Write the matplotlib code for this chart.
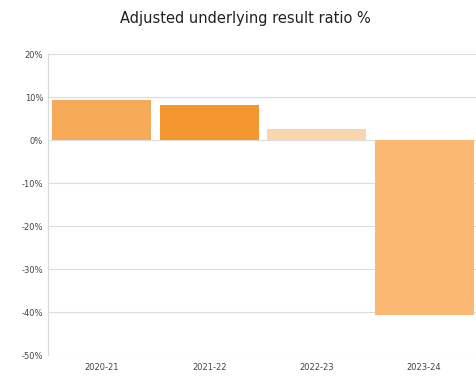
import matplotlib.pyplot as plt
from matplotlib.ticker import PercentFormatter

plt.rcParams['axes.unicode_minus'] = False

years = ['2020-21', '2021-22', '2022-23', '2023-24']
ratio = [9.3, 8.1, 2.5, -40.7]
colours = ['#F6A956', '#F4972E', '#FBD6AC', '#FBB872']

fig = plt.figure(figsize=(4.76, 3.81), dpi=100)
ax = fig.add_axes([0.101, 0.068, 0.903, 0.79])

ax.bar(years, ratio, width=0.92, color=colours, zorder=3)
ax.set_ylim(-50, 20)
ax.set_yticks(range(-50, 21, 10))
ax.yaxis.set_major_formatter(PercentFormatter(decimals=0))
ax.set_xlim(-0.5, 3.5)
ax.grid(axis='y', color='#DDDDDD', linewidth=0.8, zorder=0)

for s in ['top', 'right', 'bottom']:
    ax.spines[s].set_visible(False)
ax.spines['left'].set_color('#D9D9D9')
ax.tick_params(length=0, labelsize=6, colors='#444444')
ax.tick_params(axis='x', pad=6)

fig.suptitle('Adjusted underlying result ratio %', x=0.515, y=0.97, fontsize=10.5, color='#222222')

plt.savefig('out.png', dpi=100)
